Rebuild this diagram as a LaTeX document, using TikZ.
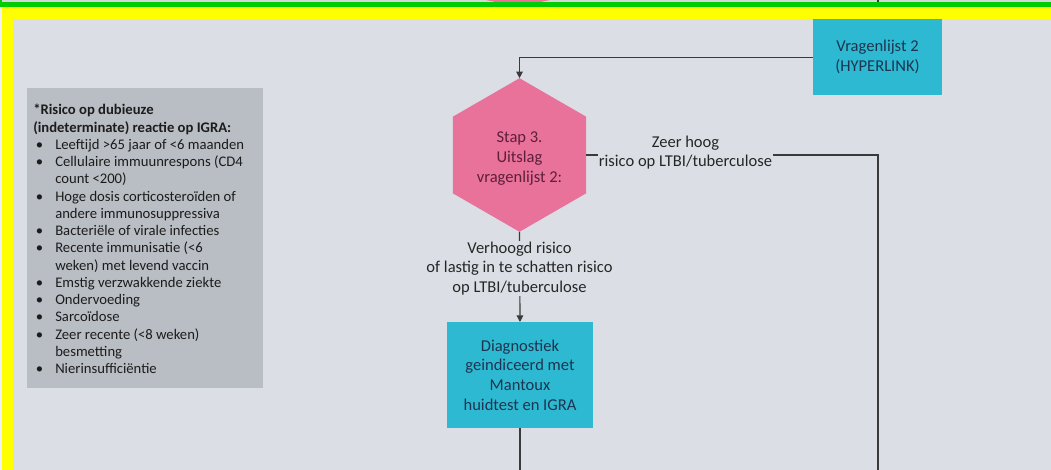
\documentclass[tikz,border=0pt]{standalone}
\usepackage{fontspec}
\setmainfont{Carlito}
\usetikzlibrary{shapes.geometric,arrows.meta}

\definecolor{bgc}{HTML}{DBDFE5}
\definecolor{stripc}{HTML}{D3D7DC}
\definecolor{greenc}{HTML}{00CC00}
\definecolor{yellowc}{HTML}{FFFF00}
\definecolor{legendc}{HTML}{B9BEC4}
\definecolor{cyanc}{HTML}{2DB9D1}
\definecolor{pinkc}{HTML}{E8729A}
\definecolor{linec}{HTML}{3A3A3A}
\definecolor{boxtext}{HTML}{1E3450}
\definecolor{hextext}{HTML}{5E1F38}
\definecolor{lbltext}{HTML}{262626}
\definecolor{legtext}{HTML}{1C1C1C}

% legend lines: a bulleted first line, and an indented continuation line
\newcommand{\bul}{\makebox[16.5pt][l]{\hspace{2pt}\textbullet}}
\newcommand{\cont}{\hspace*{16.5pt}}

\tikzset{
  conn/.style={draw=linec, line width=0.9pt},
  tip/.style={-{Triangle[length=5pt,width=5pt]}},
  cyanbox/.style={fill=cyanc, draw=none, inner sep=0pt, outer sep=0pt, align=center,
    text=boxtext, font=\fontsize{12.4}{14.7}\selectfont},
  hexbox/.style={regular polygon, regular polygon sides=6, shape border rotate=30,
    fill=pinkc, draw=none, inner sep=0pt, outer sep=0pt, minimum size=115.2pt},
  hexlabel/.style={inner sep=0pt, align=center, text=hextext,
    font=\fontsize{12.4}{14.7}\selectfont},
  lbl/.style={fill=bgc, inner sep=1pt, align=center, text=lbltext,
    font=\fontsize{12.4}{14.6}\selectfont},
}

\begin{document}
\begin{tikzpicture}[x=0.75pt, y=-0.75pt]
\useasboundingbox (0,0) rectangle (1051,470);

% page background
\fill[bgc] (0,0) rectangle (1051,470);

% strip left over from the preceding page
\fill[stripc] (0,0) rectangle (1051,2.5);
\fill[pinkc] (486,0) -- (550,0) -- (538,2.6) -- (498,2.6) -- cycle;
\draw[conn] (878,0) -- (878,2.5);

% coloured frame
\fill[greenc] (0,2.3) rectangle (1051,7.3);
\fill[greenc] (0,0) rectangle (2,7.3);
\fill[yellowc] (2,7.3) rectangle (1051,19.3);
\fill[yellowc] (2,7.3) rectangle (13.3,470);
\fill[white!55!bgc] (0,7.3) rectangle (2,470);

% legend panel
\node[fill=legendc, draw=none, minimum width=177pt, minimum height=225pt,
      inner sep=0pt, outer sep=0pt] (legend) at (145,238) {};
\node[anchor=north west, inner sep=0pt, align=left, text=legtext,
      font=\fontsize{11}{12.95}\selectfont] (legtext) at (33,104) {%
  \textbf{*Risico op dubieuze}\\
  \textbf{(indeterminate) reactie op IGRA:}\\
  \bul Leeftijd >65 jaar of <6 maanden\\
  \bul Cellulaire immuunrespons (CD4\\
  \cont count <200)\\
  \bul Hoge dosis corticosteroïden of\\
  \cont andere immunosuppressiva\\
  \bul Bacteriële of virale infecties\\
  \bul Recente immunisatie (<6\\
  \cont weken) met levend vaccin\\
  \bul Emstig verzwakkende ziekte\\
  \bul Ondervoeding\\
  \bul Sarcoïdose\\
  \bul Zeer recente (<8 weken)\\
  \cont besmetting\\
  \bul Nierinsufficiëntie};

% flow nodes
\node[cyanbox, minimum width=96.75pt, minimum height=56.8pt] (vl) at (877.5,57.2)
  {Vragenlijst 2\\(HYPERLINK)};
\node[hexbox] (hex) at (519.5,155) {};
\node[hexlabel] (hexlbl) at (519.5,158.5) {Stap 3.\\Uitslag\\vragenlijst 2:};
\node[cyanbox, minimum width=109.5pt, minimum height=79.5pt] (diag) at (520,375)
  {Diagnostiek\\geindiceerd met\\Mantoux\\huidtest en IGRA};

\coordinate (rb) at (878,470);
\coordinate (db) at (520,470);

% connectors
\draw[conn, tip] (vl.west) -- (vl.west -| hex.north) -- (hex.north);
\draw[conn] (hex.east) -- (hex.east -| rb) -- (rb);
\draw[conn, tip] (hex.south) -- (diag.north);
\draw[conn] (diag.south) -- (db);

% branch labels
\node[lbl] (zeer) at (685.5,152.5) {Zeer hoog\\risico op LTBI/tuberculose};
\node[lbl] (verh) at (519.5,268.5) {Verhoogd risico\\of lastig in te schatten risico\\op LTBI/tuberculose};
\end{tikzpicture}
\end{document}
